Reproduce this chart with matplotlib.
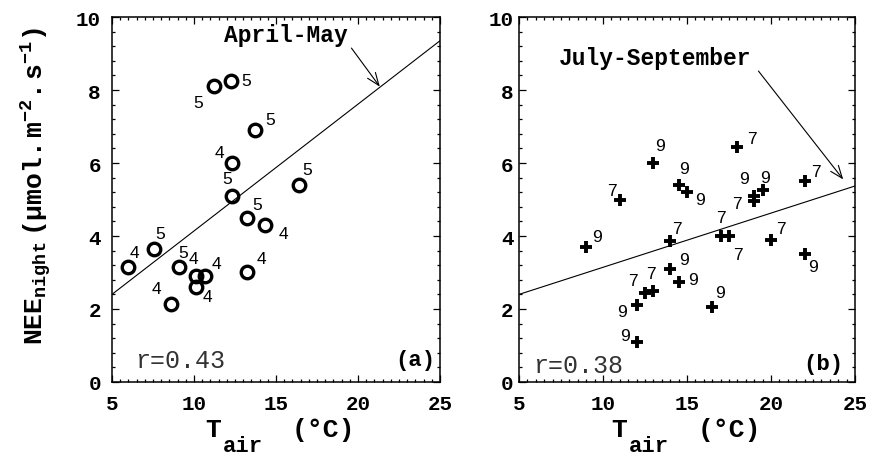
import numpy as np
import matplotlib
matplotlib.use("Agg")
import matplotlib.pyplot as plt
from matplotlib.ticker import MultipleLocator

plt.rcParams['font.family'] = ['Liberation Mono', 'DejaVu Sans']
plt.rcParams['mathtext.fontset'] = 'custom'
plt.rcParams['mathtext.rm'] = 'Liberation Mono'
plt.rcParams['mathtext.bf'] = 'Liberation Mono:bold'
plt.rcParams['mathtext.it'] = 'Liberation Mono:italic'

# panel (a) April-May
tair_a = [6.0, 7.55, 9.1, 10.1, 10.7, 10.1, 8.6, 11.2, 12.25, 13.75, 12.3, 12.3, 16.4, 13.25, 14.3, 13.25]
nee_a = [3.15, 3.65, 3.15, 2.9, 2.9, 2.6, 2.15, 8.1, 8.25, 6.9, 6.0, 5.1, 5.4, 4.5, 4.3, 3.0]
month_a = [4, 5, 5, 4, 4, 4, 4, 5, 5, 5, 4, 5, 5, 5, 4, 4]
fit_a = (2.4, 0.3475)   # value at 5 degC, slope
r_a = 0.43

# panel (b) July-September
tair_b = [13, 11, 9, 14.5, 15, 14, 18, 19, 19, 19.5, 22, 17, 17.5, 20, 22, 14, 14.5, 13, 12.5, 12, 12, 16.5]
nee_b = [6.0, 5.0, 3.7, 5.4, 5.2, 3.85, 6.45, 4.95, 5.1, 5.25, 5.5, 4.0, 4.0, 3.9, 3.5, 3.1, 2.75, 2.5, 2.45, 2.1, 1.1, 2.05]
month_b = [9, 7, 9, 9, 9, 7, 7, 7, 9, 9, 7, 7, 7, 7, 9, 9, 9, 7, 7, 9, 9, 9]
fit_b = (2.4, 0.1485)
r_b = 0.38

# where each month number sits next to its point (pixels)
offs_a = [(6, 15), (6, 15), (4, 15), (-2, 18), (11, 13), (12, -9), (-15, 15), (-15, -16),
          (15, 0), (15, 11), (-12, 11), (-5, 17), (8, 15), (10, 13), (19, -8), (14, 14)]
offs_b = [(7, 18), (-8, 9), (11, 10), (5, 16), (13, -7), (7, 13), (15, 8), (-17, -2),
          (-10, 17), (2, 13), (11, 10), (0, 19), (9, -18), (10, 11), (8, -12), (14, 9),
          (14, 2), (-2, 17), (-12, 12), (-15, -6), (-12, 6), (8, 15)]

fig = plt.figure(figsize=(8.72, 4.56), dpi=100)
ax1 = fig.add_axes([0.1284, 0.1601, 0.3762, 0.8004])
ax2 = fig.add_axes([0.5952, 0.1601, 0.3853, 0.8004])


def setup(ax, ypad, xshift):
    ax.set_xlim(5, 25)
    ax.set_ylim(0, 10)
    ax.xaxis.set_major_locator(MultipleLocator(5))
    ax.xaxis.set_minor_locator(MultipleLocator(0.5))
    ax.yaxis.set_major_locator(MultipleLocator(2))
    ax.yaxis.set_minor_locator(MultipleLocator(0.4))
    ax.tick_params(which='both', direction='in', top=True, right=True, width=0.9)
    ax.tick_params(which='major', length=5)
    ax.tick_params(which='minor', length=2.5)
    ax.tick_params(axis='x', pad=9)
    ax.tick_params(axis='y', pad=ypad)
    for lbl in ax.get_xticklabels() + ax.get_yticklabels():
        lbl.set_fontsize(15)
        lbl.set_fontweight('bold')
    for s in ax.spines.values():
        s.set_linewidth(1.1)
    # x label built from pieces: T, subscript air, (°C)
    kw = dict(xycoords='axes fraction', textcoords='offset pixels', va='baseline',
              fontweight='bold', annotation_clip=False)
    ax.annotate('T', (0.5, 0), xytext=(xshift - 73, -54), fontsize=19, **kw)
    ax.annotate('air', (0.5, 0), xytext=(xshift - 55, -69), fontsize=16, **kw)
    ax.annotate('(°C)', (0.5, 0), xytext=(xshift + 14, -54), fontsize=19, **kw)


setup(ax1, 8, 2)
setup(ax2, 4, -3)

xs = np.array([5, 25])
ax1.plot(xs, fit_a[0] + fit_a[1] * (xs - 5), color='black', lw=0.8)
ax1.plot(tair_a, nee_a, 'o', ms=9, mfc='none', mec='black', mew=2.4)
for x, y, m, o in zip(tair_a, nee_a, month_a, offs_a):
    ax1.annotate(str(m), (x, y), xytext=o, textcoords='offset pixels', ha='center', va='center',
                 fontsize=12.5, family='Liberation Sans')

ax2.plot(xs, fit_b[0] + fit_b[1] * (xs - 5), color='black', lw=0.8)
ax2.plot(tair_b, nee_b, '+', ms=8, mec='black', mew=2.8)
for x, y, m, o in zip(tair_b, nee_b, month_b, offs_b):
    ax2.annotate(str(m), (x, y), xytext=o, textcoords='offset pixels', ha='center', va='center',
                 fontsize=12.5, family='Liberation Sans')

ax1.text(15.6, 9.35, 'April-May', ha='center', va='baseline', fontsize=16.5, fontweight='bold')
ax1.annotate('', xy=(21.43, 8.03), xytext=(19.5, 9.21),
             arrowprops=dict(arrowstyle='->,head_length=0.9,head_width=0.35', color='black', lw=0.8))
ax2.text(13.1, 8.71, 'July-September', ha='center', va='baseline', fontsize=16.5, fontweight='bold')
ax2.annotate('', xy=(24.4, 5.49), xytext=(19.15, 8.58),
             arrowprops=dict(arrowstyle='->,head_length=0.9,head_width=0.35', color='black', lw=0.8))

ax1.text(0.07, 0.041, 'r=%.2f' % r_a, transform=ax1.transAxes, fontsize=18, color='#333333')
ax2.text(0.042, 0.028, 'r=%.2f' % r_b, transform=ax2.transAxes, fontsize=18, color='#333333')
ax1.text(0.985, 0.046, '(a)', transform=ax1.transAxes, ha='right', fontsize=16, fontweight='bold')
ax2.text(0.964, 0.036, '(b)', transform=ax2.transAxes, ha='right', fontsize=16, fontweight='bold')

fig.text(37 / 872, 1 - 186 / 456, r'$\mathbf{NEE_{night}\ (μmol.m^{-2}.s^{-1})}$',
         rotation=90, ha='center', va='center', fontsize=19)

fig.savefig('out.png', dpi=100)
